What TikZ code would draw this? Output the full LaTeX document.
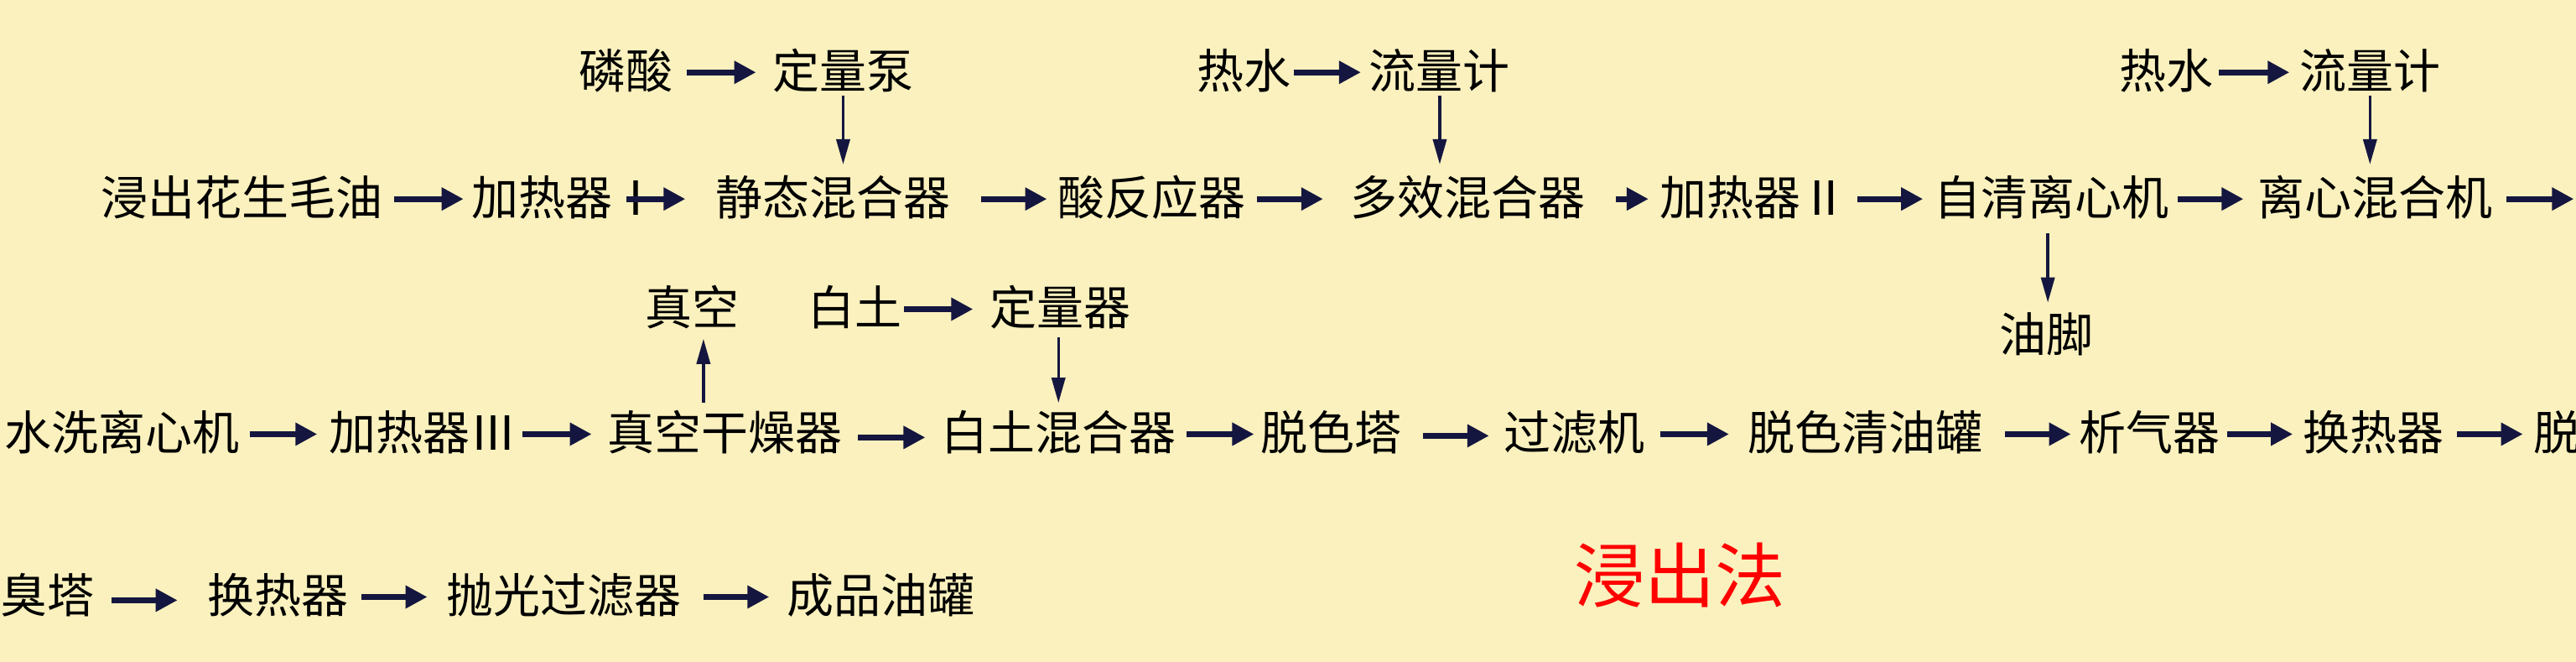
\documentclass[tikz,border=0pt]{standalone}
\usepackage{fontspec}
\setmainfont{Noto Sans CJK SC}
\usetikzlibrary{arrows.meta}
\definecolor{bg}{HTML}{FAF1BE}
\definecolor{ink}{HTML}{15163F}
\tikzset{
 t/.style={font=\fontsize{56}{60}\selectfont, text=black, inner sep=3pt, anchor=center},
 ar/.style={draw=ink, line width=7pt, -{Triangle[length=26pt,width=26pt]}},
 va/.style={draw=ink, line width=3.5pt, -{Triangle[length=30pt,width=16pt]}}
}
\newcommand{\harr}[3]{\draw[ar] (#1,#3) -- (#2,#3);}
\newcommand{\varr}[3]{\draw[va] (#1,#2) -- (#1,#3);}
\begin{document}
\begin{tikzpicture}[x=1.96pt,y=-1.96pt]
\useasboundingbox (0,0) rectangle (1567.35,402.55);
\clip (0,0) rectangle (1567.35,402.55);
\fill[bg] (0,0) rectangle (1567.35,402.55);
% row 1
\node[t] (a1) at (147,120) {浸出花生毛油};
\node[t,anchor=west,inner sep=0pt] (a2) at (287,120) {加热器Ⅰ};
\node[t] (a3) at (507,120) {静态混合器};
\node[t] (a4) at (701,120) {酸反应器};
\node[t] (a5) at (893,120) {多效混合器};
\node[t,anchor=west,inner sep=0pt] (a6) at (1010,120) {加热器Ⅱ};
\node[t] (a7) at (1248,120) {自清离心机};
\node[t] (a8) at (1445,120) {离心混合机};
\harr{240}{282}{121}
\harr{381}{417}{121}
\harr{597}{637}{121}
\harr{765}{805}{121}
\harr{983}{1003}{121}
\harr{1130}{1170}{121}
\harr{1325}{1365}{121}
\harr{1525}{1566}{121}
% top
\node[t] (p1) at (381,43) {磷酸};
\node[t] (p2) at (513,43) {定量泵};
\harr{418}{460}{44}
\varr{513}{58}{100}
\node[t] (h1) at (757,43) {热水};
\node[t] (f1) at (876,43) {流量计};
\harr{787}{828}{44}
\varr{876}{58}{100}
\node[t] (h2) at (1318,43) {热水};
\node[t] (f2) at (1442,43) {流量计};
\harr{1350}{1393}{44}
\varr{1442}{58}{100}
\node[t] (yj) at (1245,203) {油脚};
\varr{1246}{142}{184}
% row 2
\node[t] (b1) at (74,263) {水洗离心机};
\node[t,anchor=west,inner sep=0pt] (b2) at (200,263) {加热器Ⅲ};
\node[t] (b3) at (441,263) {真空干燥器};
\node[t] (b4) at (644,263) {白土混合器};
\node[t] (b5) at (810,263) {脱色塔};
\node[t] (b6) at (958,263) {过滤机};
\node[t] (b7) at (1135,263) {脱色清油罐};
\node[t] (b8) at (1308,263) {析气器};
\node[t] (b9) at (1444,263) {换热器};
\node[t] (b10) at (1556,263) {脱};
\harr{152}{193}{264}
\harr{318}{360}{264}
\harr{522}{563}{266}
\harr{722}{763}{264}
\harr{866}{906}{265}
\harr{1010}{1052}{264}
\harr{1220}{1260}{264}
\harr{1355}{1395}{264}
\harr{1495}{1535}{264}
\node[t] (zk) at (421,187) {真空};
\draw[va] (428,245) -- (428,206);
\node[t] (bt) at (520,187) {白土};
\node[t] (dl) at (645,187) {定量器};
\harr{550}{592}{188}
\varr{644}{205}{245}
% row 3
\node[t] (c1) at (29,362) {臭塔};
\node[t] (c2) at (169,362) {换热器};
\node[t] (c3) at (343,362) {抛光过滤器};
\node[t] (c4) at (536,362) {成品油罐};
\harr{68}{108}{365}
\harr{220}{260}{363}
\harr{428}{468}{363}
\node[font=\fontsize{84}{90}\selectfont, text=red] (title) at (1022,350) {浸出法};
\end{tikzpicture}
\end{document}
